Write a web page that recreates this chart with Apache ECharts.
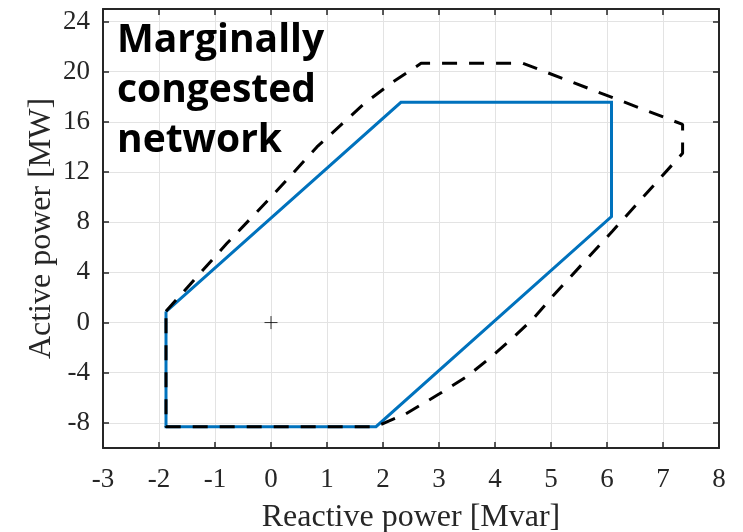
<!DOCTYPE html>
<html>
<head>
<meta charset="utf-8">
<script src="https://cdn.jsdelivr.net/npm/echarts@6/dist/echarts.min.js"></script>
<style>
  html, body { margin: 0; padding: 0; background: #fff; }
  #chart { width: 743px; height: 532px; }
</style>
</head>
<body>
<div id="chart"></div>
<script>
// blue region (solid)
var blueQ = [-1.875, 2.32, 6.08, 6.08, 1.875, -1.875, -1.875];
var blueP = [0.88, 17.56, 17.56, 8.45, -8.3, -8.3, 0.88];
// black region (dashed)
var dashQ = [-1.875, -0.79, 0.0, 0.82, 1.65, 2.15, 2.68, 4.5, 7.35, 7.35, 6.1, 5.05, 4.68, 4.3, 3.9, 3.5, 3.0, 2.4, 2.1, 1.875, -1.875, -1.875];
var dashP = [0.9, 6.3, 10.0, 14.0, 17.4, 19.1, 20.67, 20.67, 15.8, 13.5, 7.3, 2.2, 0.3, -1.3, -2.85, -4.3, -5.7, -7.3, -7.85, -8.3, -8.3, 0.9];
// operating point
var opQ = [0];
var opP = [0];
var yTicks = [-8, -4, 0, 4, 8, 12, 16, 20, 24];

function pairs(a, b) {
    var out = [];
    for (var i = 0; i < a.length; i++) out.push([a[i], b[i]]);
    return out;
}

var axisCol = '#262626';
var gridCol = '#e3e3e3';
var serif = 'Liberation Serif';

option = {
    animation: false,
    backgroundColor: '#fff',
    grid: { left: 103, right: 24, top: 9, bottom: 84, outerBoundsMode: 'none', containLabel: false },
    xAxis: [
        {
            type: 'value', min: -3, max: 8, interval: 1,
            name: 'Reactive power [Mvar]', nameLocation: 'middle', nameGap: 54, nameMoveOverlap: false,
            nameTextStyle: { fontFamily: serif, fontSize: 32, color: axisCol },
            axisLine: { show: true, onZero: false, lineStyle: { color: axisCol, width: 2 } },
            axisTick: { show: true, inside: true, length: 6, lineStyle: { color: axisCol, width: 1.5 } },
            axisLabel: { fontFamily: serif, fontSize: 27, color: axisCol, margin: 18 },
            splitLine: { show: true, lineStyle: { color: gridCol, width: 1 } }
        },
        {
            type: 'value', min: -3, max: 8, interval: 1, position: 'top',
            axisLine: { show: true, onZero: false, lineStyle: { color: axisCol, width: 2 } },
            axisTick: { show: true, inside: true, length: 6, lineStyle: { color: axisCol, width: 1.5 } },
            axisLabel: { show: false },
            splitLine: { show: false }
        }
    ],
    yAxis: [
        {
            type: 'value', min: -10, max: 25,
            name: 'Active power [MW]', nameLocation: 'middle', nameGap: 45, nameMoveOverlap: false,
            nameTextStyle: { fontFamily: serif, fontSize: 32, color: axisCol },
            axisLine: { show: true, onZero: false, lineStyle: { color: axisCol, width: 2 } },
            axisTick: { show: true, inside: true, length: 6, customValues: yTicks, lineStyle: { color: axisCol, width: 1.5 } },
            axisLabel: { fontFamily: serif, fontSize: 27, color: axisCol, margin: 13, customValues: yTicks },
            splitLine: { show: true, lineStyle: { color: gridCol, width: 1 } }
        },
        {
            type: 'value', min: -10, max: 25, position: 'right',
            axisLine: { show: true, onZero: false, lineStyle: { color: axisCol, width: 2 } },
            axisTick: { show: true, inside: true, length: 6, customValues: yTicks, lineStyle: { color: axisCol, width: 1.5 } },
            axisLabel: { show: false },
            splitLine: { show: false }
        }
    ],
    graphic: [
        {
            type: 'text', left: 117, top: 16, z: 100,
            style: {
                text: 'Marginally\ncongested\nnetwork',
                font: 'bold 39px "Open Sans"',
                lineHeight: 50,
                fill: '#000'
            }
        }
    ],
    series: [
        {
            name: 'blue', type: 'line', data: pairs(blueQ, blueP),
            symbol: 'none', silent: true, z: 3,
            lineStyle: { color: '#0072BD', width: 3, join: 'miter' }
        },
        {
            name: 'dashed', type: 'line', data: pairs(dashQ, dashP),
            symbol: 'none', silent: true, z: 4,
            lineStyle: { color: '#000', width: 3, type: [15, 12] }
        },
        {
            name: 'op', type: 'scatter', data: pairs(opQ, opP),
            symbol: 'path://M6,0L6,12M0,6L12,6', symbolSize: 13,
            itemStyle: { color: 'none', borderColor: '#000', borderWidth: 1 },
            z: 5
        }
    ]
};

var myChart = echarts.init(document.getElementById('chart'));
myChart.setOption(option);
</script>
</body>
</html>
